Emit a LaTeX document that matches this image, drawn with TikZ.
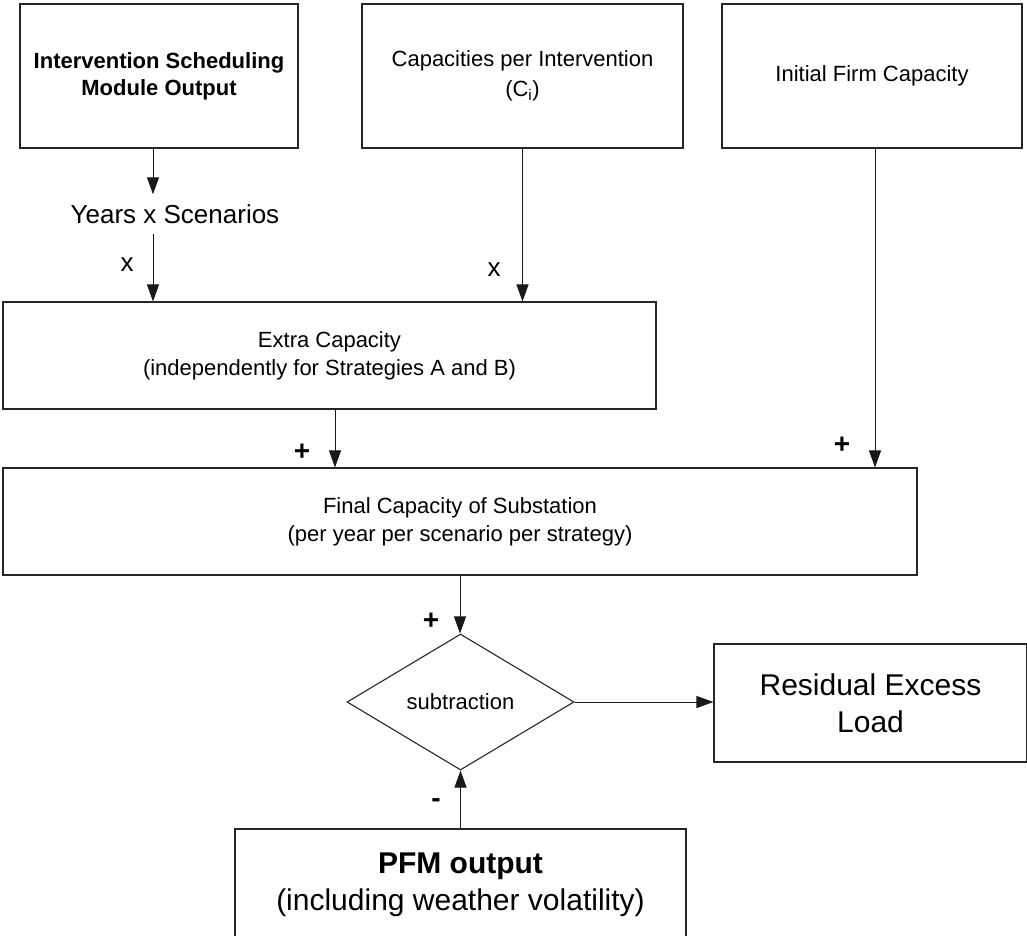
\documentclass[tikz,border=0pt]{standalone}
\usepackage{fontspec}
\setmainfont{Liberation Sans}
\usetikzlibrary{shapes.geometric, arrows.meta, positioning, calc}

\begin{document}
\begin{tikzpicture}[
    x=1pt, y=-1pt,
    blk/.style={rectangle, draw=black!85, line width=1.1pt, inner sep=0pt,
                align=center, font=\fontsize{22}{28}\selectfont},
    bigblk/.style={blk, font=\fontsize{30}{37}\selectfont},
    lbl/.style={font=\fontsize{26}{30}\selectfont, inner sep=0pt},
    sgn/.style={font=\bfseries\fontsize{28}{32}\selectfont, inner sep=0pt},
    flow/.style={-{Triangle[length=17pt, width=12pt]}, line width=1pt, draw=black!90}
]
\useasboundingbox (0,0) rectangle (1027,935);

\node[blk, minimum width=278, minimum height=144, font=\bfseries\fontsize{22}{27}\selectfont]
      (sched)   at (159,76)    {Intervention Scheduling\\Module Output};
\node[blk, minimum width=321, minimum height=144, font=\fontsize{22}{30}\selectfont]
      (capint)  at (522.5,76)  {Capacities per Intervention\\(C\textsubscript{i})};
\node[blk, minimum width=300, minimum height=144]
      (initcap) at (872,76)    {Initial Firm Capacity};

\node[lbl, inner sep=10pt] (yrs) at (175,214) {Years x Scenarios};

\node[blk, minimum width=653, minimum height=107]
      (extra)   at (329.5,355.5) {Extra Capacity\\(independently for Strategies A and B)};
\node[blk, minimum width=914, minimum height=107]
      (final)   at (460,521.5)   {Final Capacity of Substation\\(per year per scenario per strategy)};

\node[draw=black!85, line width=1.1pt, diamond, inner sep=0pt, aspect=1.67,
      minimum width=227, minimum height=136, font=\fontsize{22}{28}\selectfont]
      (sub)     at (460.5,702)   {subtraction};
\node[bigblk, minimum width=313, minimum height=118]
      (resid)   at (870.5,703)   {Residual Excess\\Load};
\node[bigblk, minimum width=451, minimum height=111]
      (pfm)     at (460.5,884.5) {\textbf{PFM output}\\(including weather volatility)};

\node[lbl] (xa) at (127,265) {x};
\node[lbl] (xb) at (494,270) {x};
\node[sgn] (pa) at (302,452) {+};
\node[sgn] (pb) at (842,445) {+};
\node[sgn] (pc) at (431,621) {+};
\node[sgn] (mn) at (436,803) {-};

\draw[flow] ([xshift=-6]sched.south) -- ([xshift=-22]yrs.north);
\draw[flow] ([xshift=-22]yrs.south) -- ([xshift=-22]yrs.south |- extra.north);
\draw[flow] (capint.south) -- (capint.south |- extra.north);
\draw[flow] ([xshift=5.5]extra.south) -- ([xshift=5.5]extra.south |- final.north);
\draw[flow] ([xshift=3]initcap.south) -- ([xshift=3]initcap.south |- final.north);
\draw[flow] (final.south) -- (final.south |- sub.north);
\draw[flow] (sub.east) -- (sub.east -| resid.west);
\draw[flow] (pfm.north) -- (sub.south);
\end{tikzpicture}
\end{document}
